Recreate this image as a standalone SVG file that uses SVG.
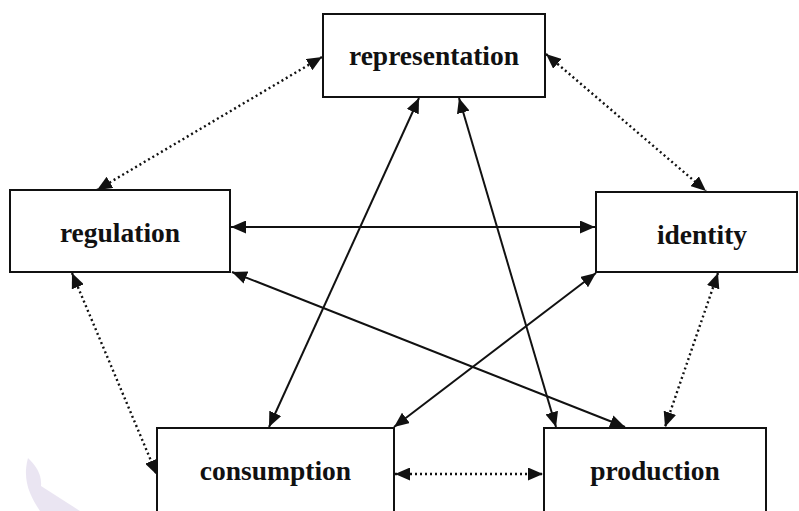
<svg xmlns="http://www.w3.org/2000/svg" width="799" height="511" viewBox="0 0 799 511">
<defs>
<marker id="ah" viewBox="0 0 15 13" refX="15" refY="6.5" markerWidth="15" markerHeight="13" markerUnits="userSpaceOnUse" orient="auto-start-reverse">
<path d="M0,0 L15,6.5 L0,13 Z" fill="#111"/>
</marker>
</defs>
<style>
.box{fill:#fff;stroke:#111;stroke-width:2}
.lbl{font-family:"Liberation Serif","Times New Roman",serif;font-weight:bold;font-size:27.5px;fill:#111;text-anchor:middle}
.solid{stroke:#111;stroke-width:2;fill:none;marker-start:url(#ah);marker-end:url(#ah)}
.dot{stroke:#111;stroke-width:2.4;fill:none;stroke-dasharray:2 3;marker-start:url(#ah);marker-end:url(#ah)}
</style>
<rect width="799" height="511" fill="#fff"/>
<path d="M28,458 C36,466 42,474 41,486 L80,511 L40,511 C30,496 22,480 28,458 Z" fill="#e6e0f0" opacity="0.85"/>
<g id="connectors">
<line class="dot" x1="322" y1="57" x2="97" y2="190"/>
<line class="dot" x1="546" y1="54" x2="706" y2="191"/>
<line class="dot" x1="72" y1="273" x2="157" y2="475"/>
<line class="dot" x1="718" y1="273" x2="665" y2="427"/>
<line class="dot" x1="395" y1="474" x2="543" y2="474"/>
<line class="solid" x1="231" y1="227" x2="595" y2="227"/>
<line class="solid" x1="419" y1="98" x2="269" y2="427"/>
<line class="solid" x1="459" y1="98" x2="556" y2="427"/>
<line class="solid" x1="232" y1="272" x2="625" y2="427"/>
<line class="solid" x1="596" y1="273" x2="394" y2="427"/>
</g>
<g id="representation">
<rect class="box" x="323" y="14" width="222" height="83"/>
<text class="lbl" x="434" y="65">representation</text>
</g>
<g id="regulation">
<rect class="box" x="10" y="190" width="220" height="82"/>
<text class="lbl" x="120" y="242">regulation</text>
</g>
<g id="identity">
<rect class="box" x="596" y="192" width="201" height="80"/>
<text class="lbl" x="702" y="244">identity</text>
</g>
<g id="consumption">
<rect class="box" x="157" y="428" width="237" height="95"/>
<text class="lbl" x="275.5" y="480">consumption</text>
</g>
<g id="production">
<rect class="box" x="544" y="428" width="222" height="95"/>
<text class="lbl" x="655" y="480">production</text>
</g>
</svg>
